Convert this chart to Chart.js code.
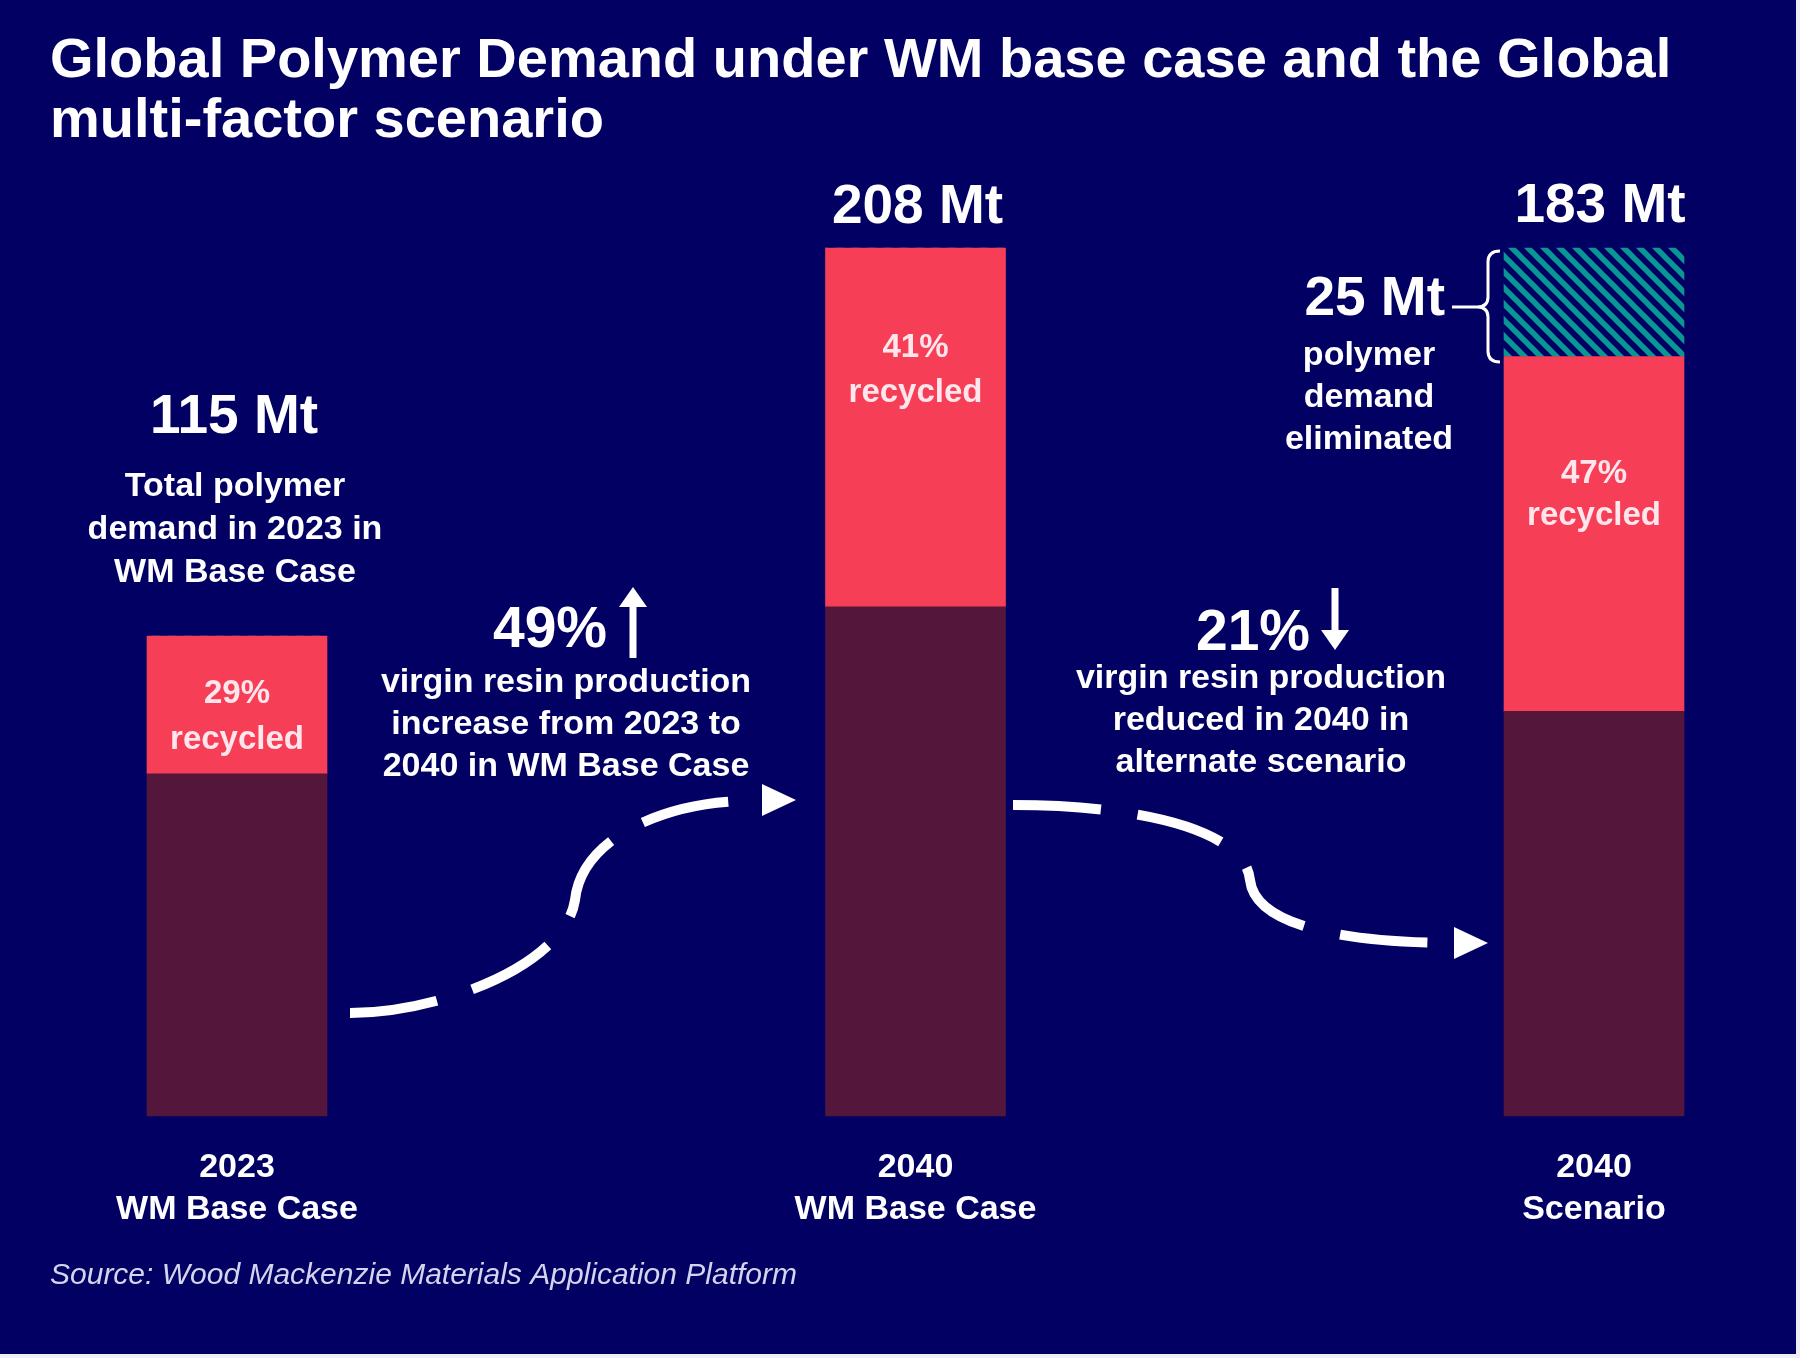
<!DOCTYPE html>
<html>
<head>
<meta charset="utf-8">
<script src="https://cdn.jsdelivr.net/npm/chart.js@4.4.1/dist/chart.umd.min.js"></script>
<style>
  body { margin: 0; background: #ffffff; }
  canvas { display: block; }
</style>
</head>
<body>
<canvas id="polymerChart" width="1800" height="1358"></canvas>
<script>
// values, in Mt
let categories = [["2023", "WM Base Case"], ["2040", "WM Base Case"], ["2040", "Scenario"]]
let virgin = [82, 122, 97]
let recycled = [33, 86, 85]
let eliminated = [0, 0, 26]
let totalLabels = ["115 Mt", "208 Mt", "183 Mt"]
let recycledLabels = ["29%", "41%", "47%"]

let NAVY = "#020062"
let RED = "#f63f56"
let MAROON = "#55163b"
let TEAL = "#0a9794"
let FONT = "'Liberation Sans', Arial, sans-serif"

// diagonal hatch for the eliminated part
let tile = document.createElement("canvas")
tile.width = 16
tile.height = 16
let tctx = tile.getContext("2d")
tctx.fillStyle = NAVY
tctx.fillRect(0, 0, 16, 16)
tctx.strokeStyle = TEAL
tctx.lineWidth = 5.5
for (let k = -16; k <= 16; k += 16) {
    tctx.beginPath()
    tctx.moveTo(k - 2, -2)
    tctx.lineTo(k + 18, 18)
    tctx.stroke()
}
let ctx = document.getElementById("polymerChart").getContext("2d")
let hatch = ctx.createPattern(tile, "repeat")

function write(c, lines, x, y, size, step, align, style) {
    c.font = (style || "bold") + " " + size + "px " + FONT
    c.textAlign = align || "center"
    c.textBaseline = "alphabetic"
    lines.forEach(function (l, i) { c.fillText(l, x, y + i * step) })
}

function arrowHead(c, tipX, tipY, dx, dy, len, half) {
    // dx,dy = unit direction of the arrow
    let bx = tipX - dx * len, by = tipY - dy * len
    c.beginPath()
    c.moveTo(tipX, tipY)
    c.lineTo(bx - dy * half, by + dx * half)
    c.lineTo(bx + dy * half, by - dx * half)
    c.closePath()
    c.fill()
}

let decorations = {
    id: "decorations",
    beforeDraw: function (chart) {
        let c = chart.ctx
        c.save()
        c.fillStyle = "#eef0f6"
        c.fillRect(0, 0, chart.width, chart.height)
        c.fillStyle = NAVY
        c.fillRect(0, 0, 1796, 1354)
        c.restore()
    },
    afterDatasetsDraw: function (chart) {
        let c = chart.ctx
        let xs = chart.scales.x
        let ys = chart.scales.y
        c.save()
        c.fillStyle = "#ffffff"

        // title
        write(c, ["Global Polymer Demand under WM base case and the Global", "multi-factor scenario"], 50, 77, 56, 60, "left")

        // totals above the bars
        let tops = virgin.map(function (v, i) { return ys.getPixelForValue(v + recycled[i] + eliminated[i]) })
        write(c, [totalLabels[0]], xs.getPixelForValue(0) - 3, tops[0] - 203, 55, 0)
        write(c, [totalLabels[1]], xs.getPixelForValue(1) + 2, tops[1] - 25, 55, 0)
        write(c, [totalLabels[2]], xs.getPixelForValue(2) + 6, tops[2] - 26, 55, 0)
        write(c, ["Total polymer", "demand in 2023 in", "WM Base Case"], xs.getPixelForValue(0) - 2, 496, 34, 43)

        // recycled share inside the red segments
        c.fillStyle = "#ffe6ec"
        let recY = [703, 357, 483]
        let recStep = [46, 45, 42]
        recycledLabels.forEach(function (lab, i) {
            write(c, [lab, "recycled"], xs.getPixelForValue(i), recY[i], 33, recStep[i])
        })

        c.fillStyle = "#ffffff"
        // eliminated demand callout
        write(c, ["25 Mt"], 1445, 315, 55, 0, "right")
        write(c, ["polymer", "demand", "eliminated"], 1369, 365, 34, 42)
        c.strokeStyle = "#ffffff"
        c.lineWidth = 3
        c.beginPath()
        c.moveTo(1452, 307)
        c.lineTo(1477, 307)
        c.stroke()
        c.beginPath()
        c.moveTo(1500, 251)
        c.quadraticCurveTo(1488, 251, 1488, 262)
        c.lineTo(1488, 297)
        c.quadraticCurveTo(1488, 307, 1477, 307)
        c.quadraticCurveTo(1488, 307, 1488, 317)
        c.lineTo(1488, 351)
        c.quadraticCurveTo(1488, 362, 1500, 362)
        c.stroke()

        // change callouts
        write(c, ["49%"], 550, 647, 57, 0)
        write(c, ["virgin resin production", "increase from 2023 to", "2040 in WM Base Case"], 566, 692, 34, 42)
        write(c, ["21%"], 1253, 650, 57, 0)
        write(c, ["virgin resin production", "reduced in 2040 in", "alternate scenario"], 1261, 688, 34, 42)

        c.lineWidth = 7
        c.beginPath()
        c.moveTo(633, 658)
        c.lineTo(633, 600)
        c.stroke()
        arrowHead(c, 633, 587, 0, -1, 20, 14)
        c.beginPath()
        c.moveTo(1335, 588)
        c.lineTo(1335, 636)
        c.stroke()
        arrowHead(c, 1335, 650, 0, 1, 20, 14)

        // dashed flow arrows between bars
        c.lineWidth = 10
        c.setLineDash([88, 37])
        c.beginPath()
        c.moveTo(350, 1013)
        c.bezierCurveTo(440, 1013, 565, 965, 575, 900)
        c.bezierCurveTo(582, 835, 670, 802, 745, 801)
        c.stroke()
        c.beginPath()
        c.moveTo(1013, 805)
        c.bezierCurveTo(1140, 805, 1245, 830, 1250, 880)
        c.bezierCurveTo(1255, 925, 1340, 942, 1448, 943)
        c.stroke()
        c.setLineDash([])
        arrowHead(c, 796, 800, 1, 0, 34, 16)
        arrowHead(c, 1488, 943, 1, 0, 34, 16)

        // source
        c.fillStyle = "#d4d4ee"
        write(c, ["Source: Wood Mackenzie Materials Application Platform"], 50, 1284, 30, 0, "left", "italic")
        c.restore()
    }
}

let chart = new Chart(ctx, {
    type: "bar",
    data: {
        labels: categories,
        datasets: [{
            label: "Virgin",
            data: virgin,
            backgroundColor: MAROON,
            clip: false
        }, {
            label: "Recycled",
            data: recycled,
            backgroundColor: RED,
            clip: false
        }, {
            label: "Eliminated",
            data: eliminated,
            backgroundColor: hatch,
            clip: false
        }]
    },
    options: {
        responsive: false,
        animation: false,
        devicePixelRatio: 1,
        layout: { padding: { left: 237, right: 206, top: 248, bottom: 96 } },
        datasets: { bar: { barThickness: 180, borderWidth: 0 } },
        plugins: {
            legend: { display: false },
            tooltip: { enabled: false }
        },
        scales: {
            x: {
                stacked: true,
                offset: false,
                border: { display: false },
                grid: { display: false, drawTicks: false },
                ticks: {
                    color: "#ffffff",
                    padding: 31,
                    maxRotation: 0,
                    font: { family: FONT, size: 34, weight: "bold", lineHeight: 1.235 }
                }
            },
            y: {
                stacked: true,
                display: false,
                min: 0,
                max: 208
            }
        }
    },
    plugins: [decorations]
})
</script>
</body>
</html>
